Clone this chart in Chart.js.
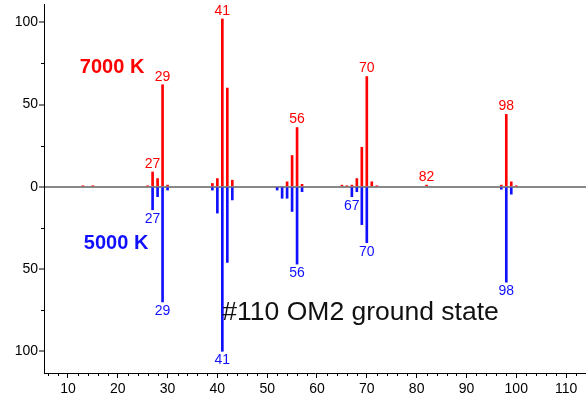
<!DOCTYPE html>
<html><head><meta charset="utf-8">
<script src="https://cdn.jsdelivr.net/npm/chart.js@4/dist/chart.umd.min.js"></script>
<style>html,body{margin:0;padding:0;background:#fff;}#wrap{width:586px;height:406px;}</style>
</head><body><div id="wrap"><canvas id="c"></canvas></div>
<script>
const redMasses  = [13, 15, 26, 27, 28, 29, 30, 39, 40, 41, 42, 43, 54, 55, 56, 57, 65, 66, 67, 68, 69, 70, 71, 72, 82, 97, 98, 99, 100];
const redValues  = [0.5, 0.5, 0.5, 9, 5, 62, 1, 2, 5, 102, 60, 4, 3, 19, 36, 1.5, 1, 0.5, 1, 5, 24, 67, 3, 0.5, 1, 1, 44, 3, 0.5];
const blueMasses = [27, 28, 29, 30, 39, 40, 41, 42, 43, 52, 53, 54, 55, 56, 57, 67, 68, 69, 70, 97, 98, 99];
const blueValues = [-14, -6, -70, -2, -2, -16, -100, -46, -8, -2, -7, -7, -15, -47, -3, -6, -3, -23, -34, -1.5, -58, -4.5];
const redLabelMasses  = [27, 29, 41, 56, 70, 82, 98];
const blueLabelMasses = [27, 29, 41, 56, 67, 70, 98];
const yTickValues = [-100, -50, 0, 50, 100];
const yMinorTicks = [-75, -25, 25, 75];
const xMinorTicks = [6, 8, 12, 14, 16, 18, 22, 24, 26, 28, 32, 34, 36, 38, 42, 44, 46, 48, 52, 54, 56, 58, 62, 64, 66, 68, 72, 74, 76, 78, 82, 84, 86, 88, 92, 94, 96, 98, 102, 104, 106, 108, 112];
const seriesNames = ['7000 K', '5000 K'];
const caption = '#110 OM2 ground state';

const RED = '#ff0000', BLUE = '#1010ff', FONT = "'Liberation Sans', Arial, sans-serif";

const annot = {
  id: 'annot',
  afterDraw(chart) {
    const ctx = chart.ctx, xs = chart.scales.x, ys = chart.scales.y;
    ctx.save();
    ctx.strokeStyle = '#000'; ctx.lineWidth = 1;
    xMinorTicks.forEach(v => {
      const px = Math.round(xs.getPixelForValue(v)) + 0.5;
      ctx.beginPath(); ctx.moveTo(px, xs.top); ctx.lineTo(px, xs.top + 3); ctx.stroke();
    });
    yMinorTicks.forEach(v => {
      const py = Math.round(ys.getPixelForValue(v)) + 0.5;
      ctx.beginPath(); ctx.moveTo(ys.right - 3, py); ctx.lineTo(ys.right, py); ctx.stroke();
    });
    ctx.font = '14px ' + FONT; ctx.textAlign = 'center';
    ctx.fillStyle = RED; ctx.textBaseline = 'bottom';
    redLabelMasses.forEach(m => {
      const v = redValues[redMasses.indexOf(m)];
      ctx.fillText(String(m), xs.getPixelForValue(m), ys.getPixelForValue(v) - 1);
    });
    ctx.fillStyle = BLUE; ctx.textBaseline = 'top';
    blueLabelMasses.forEach(m => {
      const v = blueValues[blueMasses.indexOf(m)];
      ctx.fillText(String(m), xs.getPixelForValue(m), ys.getPixelForValue(v) + 2);
    });
    ctx.textAlign = 'left'; ctx.textBaseline = 'middle';
    ctx.font = 'bold 20px ' + FONT;
    ctx.fillStyle = RED; ctx.fillText(seriesNames[0], xs.getPixelForValue(12.4), ys.getPixelForValue(72.5));
    ctx.fillStyle = BLUE; ctx.fillText(seriesNames[1], xs.getPixelForValue(13.2), ys.getPixelForValue(-34.5));
    ctx.font = '26.5px ' + FONT; ctx.fillStyle = '#111';
    ctx.fillText(caption, xs.getPixelForValue(41), ys.getPixelForValue(-76.5));
    ctx.restore();
  }
};

new Chart(document.getElementById('c'), {
  type: 'bar',
  data: {
    datasets: [
      { label: seriesNames[0], data: redMasses.map((m, i) => ({ x: m, y: redValues[i] })), backgroundColor: RED, barThickness: 2, grouped: false },
      { label: seriesNames[1], data: blueMasses.map((m, i) => ({ x: m, y: blueValues[i] })), backgroundColor: BLUE, barThickness: 2, grouped: false }
    ]
  },
  options: {
    responsive: true, maintainAspectRatio: false, animation: false,
    layout: { padding: { top: 4, right: 0, left: 0, bottom: 0 } },
    plugins: { legend: { display: false }, tooltip: { enabled: false } },
    scales: {
      x: {
        type: 'linear', min: 5.2, max: 114, offset: false,
        afterFit(s) { s.height = 33; s.paddingLeft = 0; s.paddingRight = 0; },
        border: { color: '#000', width: 1 },
        grid: { drawOnChartArea: false, offset: false, tickLength: 5, tickColor: '#000' },
        ticks: { stepSize: 10, includeBounds: false, color: '#000', padding: 3, font: { family: FONT, size: 14 }, maxRotation: 0 }
      },
      y: {
        type: 'linear', min: -113.2, max: 111.1,
        afterFit(s) { s.width = 44; s.paddingTop = 0; s.paddingBottom = 0; },
        afterBuildTicks(s) { s.ticks = yTickValues.map(v => ({ value: v })); },
        border: { color: '#000', width: 1 },
        grid: {
          color: c => (c.tick && c.tick.value === 0) ? '#888' : 'rgba(0,0,0,0)',
          lineWidth: c => (c.tick && c.tick.value === 0) ? 2 : 0,
          tickColor: '#000', tickLength: 5, tickWidth: 1
        },
        ticks: { color: '#000', padding: 1, font: { family: FONT, size: 14 }, callback: v => String(Math.abs(v)) }
      }
    }
  },
  plugins: [annot]
});
</script></body></html>
